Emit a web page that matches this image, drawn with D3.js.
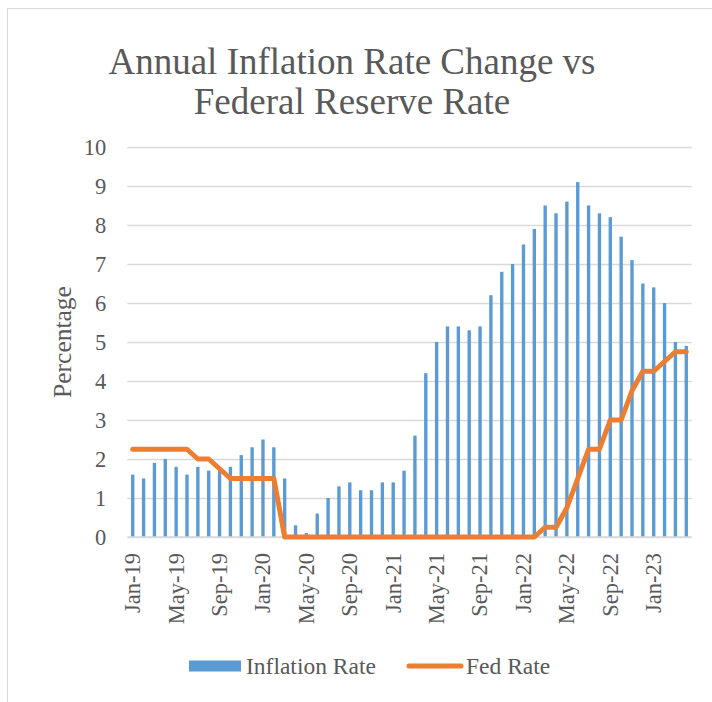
<!DOCTYPE html>
<html>
<head>
<meta charset="utf-8">
<script src="https://cdn.jsdelivr.net/npm/d3@7"></script>
<style>
  html, body { margin: 0; padding: 0; background: #ffffff; }
  svg { display: block; }
  text { font-family: "Liberation Serif", "Times New Roman", serif; fill: #595959; }
</style>
</head>
<body>
<svg id="chart" width="712" height="702"></svg>
<script>
// Monthly categories, Jan-19 through Apr-23
const months = [
  "Jan-19","Feb-19","Mar-19","Apr-19","May-19","Jun-19","Jul-19","Aug-19","Sep-19","Oct-19","Nov-19","Dec-19",
  "Jan-20","Feb-20","Mar-20","Apr-20","May-20","Jun-20","Jul-20","Aug-20","Sep-20","Oct-20","Nov-20","Dec-20",
  "Jan-21","Feb-21","Mar-21","Apr-21","May-21","Jun-21","Jul-21","Aug-21","Sep-21","Oct-21","Nov-21","Dec-21",
  "Jan-22","Feb-22","Mar-22","Apr-22","May-22","Jun-22","Jul-22","Aug-22","Sep-22","Oct-22","Nov-22","Dec-22",
  "Jan-23","Feb-23","Mar-23","Apr-23"
];

// Annual inflation rate (%)
const inflationRate = [
  1.6,1.5,1.9,2.0,1.8,1.6,1.8,1.7,1.7,1.8,2.1,2.3,
  2.5,2.3,1.5,0.3,0.1,0.6,1.0,1.3,1.4,1.2,1.2,1.4,
  1.4,1.7,2.6,4.2,5.0,5.4,5.4,5.3,5.4,6.2,6.8,7.0,
  7.5,7.9,8.5,8.3,8.6,9.1,8.5,8.3,8.2,7.7,7.1,6.5,
  6.4,6.0,5.0,4.9
];

// Federal funds rate (%)
const fedRate = [
  2.25,2.25,2.25,2.25,2.25,2.25,2.0,2.0,1.75,1.5,1.5,1.5,
  1.5,1.5,0,0,0,0,0,0,0,0,0,0,
  0,0,0,0,0,0,0,0,0,0,0,0,
  0,0,0.25,0.25,0.75,1.5,2.25,2.25,3.0,3.0,3.75,4.25,
  4.25,4.5,4.75,4.75
];

// Category labels shown on the x axis
const xTickLabels = ["Jan-19","May-19","Sep-19","Jan-20","May-20","Sep-20","Jan-21",
                     "May-21","Sep-21","Jan-22","May-22","Sep-22","Jan-23"];
const yTickValues = [0,1,2,3,4,5,6,7,8,9,10];

const seriesNames = ["Inflation Rate", "Fed Rate"];
const titleLines = ["Annual Inflation Rate Change vs", "Federal Reserve Rate"];
const yTitle = "Percentage";

const colors = { bar: "#5B9BD5", line: "#ED7D31", grid: "#D9D9D9", text: "#595959" };

const svg = d3.select("#chart");
const plot = { left: 127.3, right: 691.7, top: 147, bottom: 537 };

// Chart frame
svg.append("rect")
  .attr("x", 7.5).attr("y", 8.5)
  .attr("width", 720).attr("height", 720)
  .attr("fill", "none").attr("stroke", colors.grid).attr("stroke-width", 1);

// Title
svg.append("g").selectAll("text")
  .data(titleLines)
  .join("text")
  .attr("x", 352)
  .attr("y", (d, i) => 74 + i * 40)
  .attr("text-anchor", "middle")
  .style("font-size", "37px")
  .text(d => d);

const x = d3.scaleBand()
  .domain(months)
  .range([plot.left, plot.right])
  .paddingInner(0.69)
  .paddingOuter(0.345);

const y = d3.scaleLinear()
  .domain([0, 10])
  .range([plot.bottom, plot.top]);

// Horizontal gridlines with y tick labels
const yAxis = d3.axisLeft(y)
  .tickValues(yTickValues)
  .tickFormat(d3.format("d"))
  .tickSize(-(plot.right - plot.left))
  .tickPadding(21);

svg.append("g")
  .attr("transform", `translate(${plot.left},0)`)
  .call(yAxis)
  .call(g => g.select(".domain").remove())
  .call(g => g.selectAll(".tick line").attr("stroke", colors.grid).attr("stroke-width", 1.3))
  .call(g => g.selectAll(".tick text")
    .attr("fill", colors.text)
    .style("font-family", "'Liberation Serif', serif")
    .style("font-size", "22.5px"));

// Bars
svg.append("g").selectAll("rect")
  .data(months.map((m, i) => ({ m, v: inflationRate[i] })))
  .join("rect")
  .attr("x", d => x(d.m))
  .attr("width", x.bandwidth())
  .attr("y", d => y(d.v))
  .attr("height", d => y(0) - y(d.v))
  .attr("fill", colors.bar);

// X axis with rotated labels
const xAxis = d3.axisBottom(x)
  .tickValues(xTickLabels)
  .tickSize(0)
  .tickPadding(0);

svg.append("g")
  .attr("transform", `translate(0,${plot.bottom})`)
  .call(xAxis)
  .call(g => g.select(".domain")
    .attr("d", `M${plot.left},0H${plot.right}`)
    .attr("stroke", colors.grid).attr("stroke-width", 1.3))
  .call(g => g.selectAll(".tick text")
    .attr("fill", colors.text)
    .style("font-family", "'Liberation Serif', serif")
    .style("font-size", "22.5px")
    .attr("text-anchor", "end")
    .attr("transform", "rotate(-90)")
    .attr("x", -16)
    .attr("y", 0)
    .attr("dy", "0.33em"));

// Fed rate line
const line = d3.line()
  .x((d, i) => x(months[i]) + x.bandwidth() / 2)
  .y(d => y(d));

svg.append("path")
  .datum(fedRate)
  .attr("d", line)
  .attr("fill", "none")
  .attr("stroke", colors.line)
  .attr("stroke-width", 5)
  .attr("stroke-linejoin", "round")
  .attr("stroke-linecap", "round");

// Y axis title
svg.append("text")
  .attr("transform", `translate(63,342) rotate(-90)`)
  .attr("text-anchor", "middle")
  .attr("dy", "0.33em")
  .style("font-size", "25.5px")
  .text(yTitle);

// Legend
const legend = svg.append("g");
legend.append("rect")
  .attr("x", 189).attr("y", 660.5)
  .attr("width", 52).attr("height", 11)
  .attr("fill", colors.bar);
legend.append("text")
  .attr("x", 246).attr("y", 674)
  .style("font-size", "23.5px")
  .text(seriesNames[0]);
legend.append("line")
  .attr("x1", 409).attr("x2", 461)
  .attr("y1", 666).attr("y2", 666)
  .attr("stroke", colors.line)
  .attr("stroke-width", 5)
  .attr("stroke-linecap", "round");
legend.append("text")
  .attr("x", 466).attr("y", 674)
  .style("font-size", "23.5px")
  .text(seriesNames[1]);
</script>
</body>
</html>
